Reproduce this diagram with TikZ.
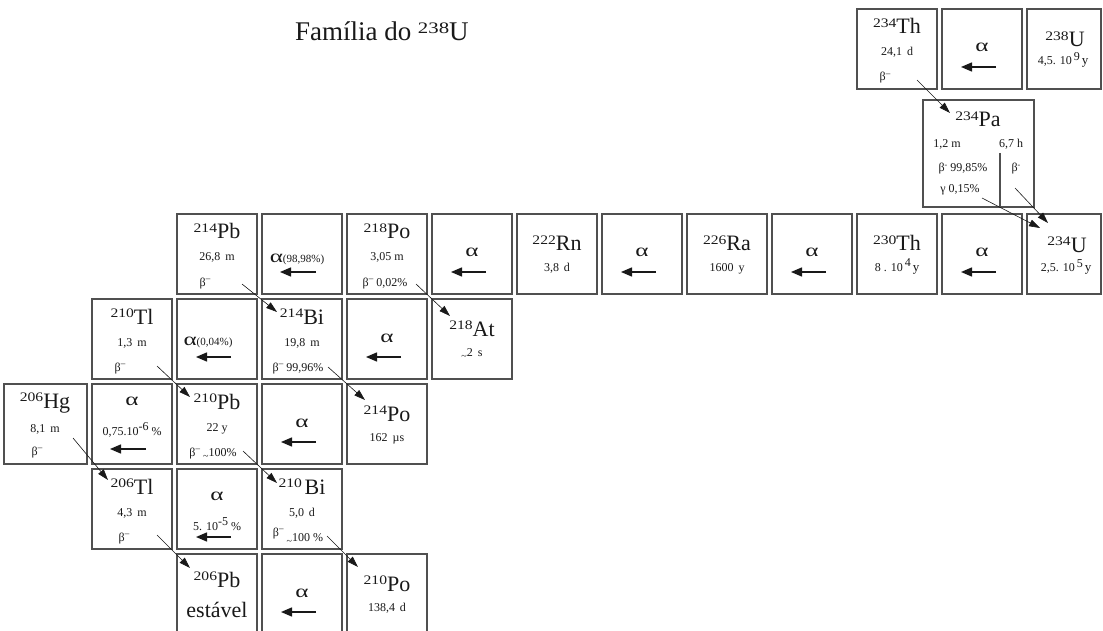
\documentclass[tikz,border=0pt]{standalone}
\usepackage{fontspec}
\setmainfont{Liberation Serif}
\usetikzlibrary{arrows.meta}
\definecolor{boxgray}{RGB}{80,80,80}
\definecolor{ink}{RGB}{25,25,25}
\newcommand\iso[2]{{\fontsize{13}{13}\selectfont\raisebox{6.5pt}{\scalebox{1.2}[1]{#1}}}{\fontsize{22}{22}\selectfont #2}}
\newcommand\hlf{\fontsize{12}{14}\selectfont}
\newcommand\betam{β\raisebox{4.5pt}{\fontsize{9}{9}\selectfont –}}
\newcommand\supr[1]{\raisebox{4.5pt}{#1}}
\newcommand\lowtilde{\raisebox{-3pt}{\fontsize{10}{10}\selectfont\textasciitilde}}
\newcommand\alf{{\fontsize{18}{18}\selectfont\scalebox{1.4}[1]{α}}}
\tikzset{
  box/.style={draw=boxgray, line width=1.3pt, minimum width=80pt, minimum height=80pt,
    inner sep=0pt, outer sep=0pt, anchor=north west},
  txt/.style={inner sep=0pt, outer sep=0pt, anchor=base, text=ink},
  alphaarrow/.style={draw=ink, line width=1.4pt, -{Triangle[length=11pt,width=9pt]}},
  betaarrow/.style={draw=ink, line width=0.6pt, -{Triangle[length=11pt,width=7pt]}},
}
% nuclide with three lines: name,left,top,mass,symbol,half-life,beta x offset,beta text
\newcommand\nucIII[8]{%
  \node[box] (#1) at (#2,#3) {};
  \node[txt] (#1-s) at (#2+40,#3+25) {\iso{#4}{#5}};
  \node[txt] (#1-h) at (#2+40,#3+47) {\hlf #6};
  \node[txt] (#1-b) at (#2+#7,#3+72) {\hlf #8};}
% nuclide with two lines: name,left,top,mass,symbol,half-life
\newcommand\nucII[6]{%
  \node[box] (#1) at (#2,#3) {};
  \node[txt] (#1-s) at (#2+40,#3+37) {\iso{#4}{#5}};
  \node[txt] (#1-h) at (#2+40,#3+57) {\hlf #6};}
% standard alpha box: name,left,top
\newcommand\alphastd[3]{%
  \node[box] (#1) at (#2,#3) {};
  \node[txt] (#1-a) at (#2+40,#3+43) {\alf};
  \coordinate (#1-from) at (#2+54,#3+58);
  \coordinate (#1-to) at (#2+19,#3+58);
  \draw[alphaarrow] (#1-from) -- (#1-to);}
\begin{document}
\begin{tikzpicture}[x=1pt,y=-1pt]
\useasboundingbox (0,0) rectangle (1103,631);
\fill[white] (0,0) rectangle (1103,631);
\clip (0,0) rectangle (1103,631);

% title
\node[txt, anchor=base west] (title) at (295,41)
  {\fontsize{27}{27}\selectfont Família do {\fontsize{16}{16}\selectfont\raisebox{7pt}{\scalebox{1.3}[1]{238}}}U};

% ---------- top row ----------
\nucIII{Th234}{857}{9}{234}{Th}{24,1\hspace{5pt}d}{28}{\betam}
\alphastd{A1}{942}{9}
\node[box, minimum width=74pt] (U238) at (1027,9) {};
\node[txt] (U238-s) at (1065,47) {\iso{238}{U}};
\node[txt] (U238-h) at (1063,65) {\hlf 4,5. 10\,\supr{9}\,{\fontsize{13}{13}\selectfont y}};

% ---------- 234Pa ----------
\node[box, minimum width=111pt, minimum height=107pt] (Pa234) at (923,100) {};
\node[txt] (Pa234-s) at (978,127) {\iso{234}{Pa}};
\node[txt] (Pa234-h1) at (947,148) {\hlf 1,2 m};
\node[txt] (Pa234-h2) at (1011,148) {\hlf 6,7 h};
\node[txt] (Pa234-b1) at (963,172) {\hlf β\raisebox{4pt}{\fontsize{8}{8}\selectfont -} 99,85\%};
\node[txt] (Pa234-b2) at (1016,172) {\hlf β\raisebox{4pt}{\fontsize{8}{8}\selectfont -}};
\node[txt] (Pa234-g) at (960,193) {\hlf γ 0,15\%};
\coordinate (Pa234-d1) at (1000,153);
\draw[boxgray, line width=1.3pt] (Pa234-d1) -- (Pa234-d1 |- Pa234.south);

% ---------- row 3 ----------
\nucIII{Pb214}{177}{214}{214}{Pb}{26,8\hspace{5pt}m}{28}{\betam}
\node[box] (A2) at (262,214) {};
\node[txt] (A2-a) at (297,262) {\alf{\fontsize{11}{11}\selectfont(98,98\%)}};
\coordinate (A2-from) at (316,272);
\coordinate (A2-to) at (280,272);
\draw[alphaarrow] (A2-from) -- (A2-to);
\nucIII{Po218}{347}{214}{218}{Po}{3,05 m}{38}{\betam\ 0,02\%}
\alphastd{A3}{432}{214}
\nucII{Rn222}{517}{214}{222}{Rn}{3,8\hspace{5pt}d}
\alphastd{A4}{602}{214}
\nucII{Ra226}{687}{214}{226}{Ra}{1600\hspace{5pt}y}
\alphastd{A5}{772}{214}
\nucII{Th230}{857}{214}{230}{Th}{8 . 10\,\supr{4}\,{\fontsize{13}{13}\selectfont y}}
\alphastd{A6}{942}{214}
\node[box, minimum width=74pt] (U234) at (1027,214) {};
\node[txt] (U234-s) at (1067,252) {\iso{234}{U}};
\node[txt] (U234-h) at (1066,272) {\hlf 2,5. 10\,\supr{5}\,{\fontsize{13}{13}\selectfont y}};

% ---------- row 4 ----------
\nucIII{Tl210}{92}{299}{210}{Tl}{1,3\hspace{5pt}m}{28}{\betam}
\node[box] (A7) at (177,299) {};
\node[txt] (A7-a) at (208,345) {\alf{\fontsize{11}{11}\selectfont(0,04\%)}};
\coordinate (A7-from) at (231,357);
\coordinate (A7-to) at (196,357);
\draw[alphaarrow] (A7-from) -- (A7-to);
\nucIII{Bi214}{262}{299}{214}{Bi}{19,8\hspace{5pt}m}{36}{\betam\ 99,96\%}
\alphastd{A8}{347}{299}
\nucII{At218}{432}{299}{218}{At}{\lowtilde2\hspace{5pt}s}

% ---------- row 5 ----------
\node[box, minimum width=83pt] (Hg206) at (4,384) {};
\node[txt] (Hg206-s) at (45,408) {\iso{206}{Hg}};
\node[txt] (Hg206-h) at (45,432) {\hlf 8,1\hspace{5pt}m};
\node[txt] (Hg206-b) at (37,455) {\hlf\betam};
\node[box] (A9) at (92,384) {};
\node[txt] (A9-a) at (132,405) {\alf};
\node[txt] (A9-p) at (132,435) {\hlf 0,75.10\raisebox{4.5pt}{-6} \%};
\coordinate (A9-from) at (146,449);
\coordinate (A9-to) at (110,449);
\draw[alphaarrow] (A9-from) -- (A9-to);
\nucIII{Pb210}{177}{384}{210}{Pb}{22 y}{36}{\betam\ \lowtilde100\%}
\alphastd{A10}{262}{384}
\nucII{Po214}{347}{384}{214}{Po}{162\hspace{5pt}µs}

% ---------- row 6 ----------
\nucIII{Tl206}{92}{469}{206}{Tl}{4,3\hspace{5pt}m}{32}{\betam}
\node[box] (A11) at (177,469) {};
\node[txt] (A11-a) at (217,500) {\alf};
\node[txt] (A11-p) at (217,530) {\hlf 5. 10\raisebox{4.5pt}{-5} \%};
\coordinate (A11-from) at (231,537);
\coordinate (A11-to) at (196,537);
\draw[alphaarrow] (A11-from) -- (A11-to);
\nucIII{Bi210}{262}{469}{210\,}{Bi}{5,0\hspace{5pt}d}{36}{\raisebox{5pt}{\betam}\ \lowtilde100 \%}

% ---------- row 7 ----------
\node[box] (Pb206) at (177,554) {};
\node[txt] (Pb206-s) at (217,587) {\iso{206}{Pb}};
\node[txt] (Pb206-e) at (217,617) {\fontsize{22}{22}\selectfont estável};
\alphastd{A12}{262}{554}
\nucII{Po210}{347}{554}{210}{Po}{138,4\hspace{5pt}d}

% ---------- beta decays ----------
\draw[betaarrow] ([shift={(-20,-9)}]Th234.south east) -- ([shift={(27,13)}]Pa234.north west);
\draw[betaarrow] ([shift={(59,-9)}]Pa234.south west) -- ([shift={(13,14)}]U234.north west);
\draw[betaarrow] ([shift={(-19,-19)}]Pa234.south east) -- ([shift={(21,9)}]U234.north west);
\draw[betaarrow] ([shift={(-15,-10)}]Pb214.south east) -- ([shift={(15,13)}]Bi214.north west);
\draw[betaarrow] ([shift={(-11,-10)}]Po218.south east) -- ([shift={(18,17)}]At218.north west);
\draw[betaarrow] ([shift={(-15,-13)}]Tl210.south east) -- ([shift={(13,13)}]Pb210.north west);
\draw[betaarrow] ([shift={(-14,-12)}]Bi214.south east) -- ([shift={(18,16)}]Po214.north west);
\draw[betaarrow] ([shift={(-14,-26)}]Hg206.south east) -- ([shift={(16,11)}]Tl206.north west);
\draw[betaarrow] ([shift={(-14,-13)}]Pb210.south east) -- ([shift={(15,14)}]Bi210.north west);
\draw[betaarrow] ([shift={(-15,-14)}]Tl206.south east) -- ([shift={(13,14)}]Pb206.north west);
\draw[betaarrow] ([shift={(-15,-13)}]Bi210.south east) -- ([shift={(11,13)}]Po210.north west);
\end{tikzpicture}
\end{document}
